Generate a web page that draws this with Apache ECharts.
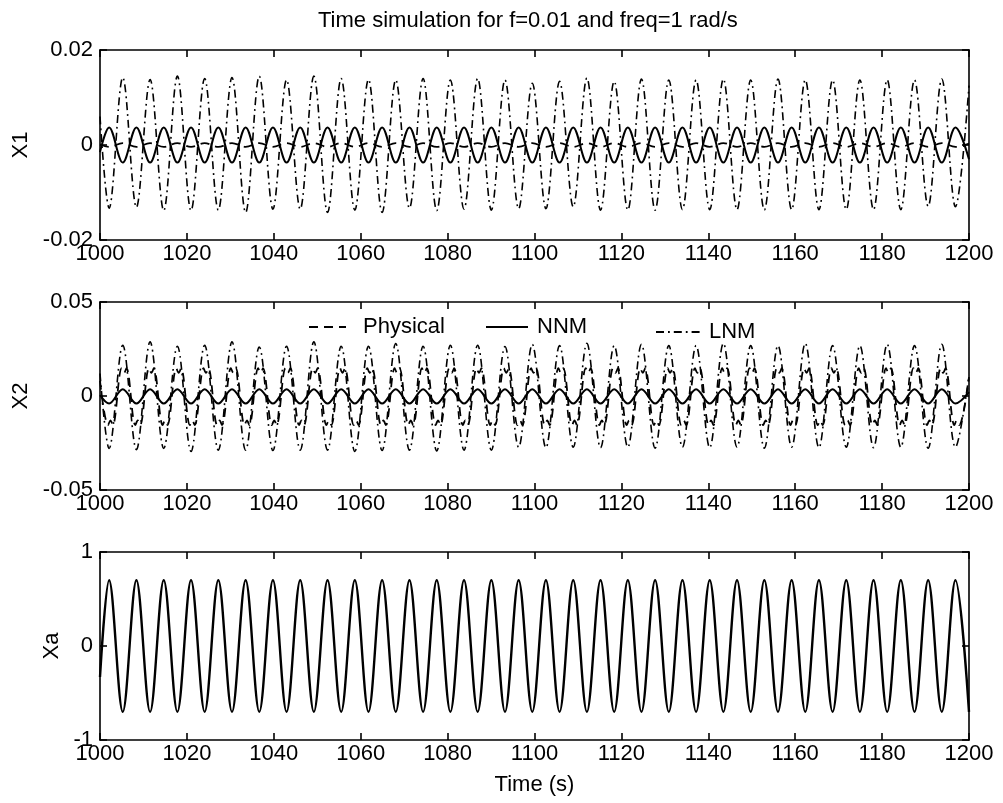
<!DOCTYPE html>
<html>
<head>
<meta charset="utf-8">
<script src="https://cdn.jsdelivr.net/npm/echarts@6/dist/echarts.min.js"></script>
<style>
html,body{margin:0;padding:0;background:#fff}
#chart{width:1003px;height:803px}
</style>
</head>
<body>
<div id="chart"></div>
<script>
// ---------------- data ----------------
const titleText = 'Time simulation for f=0.01 and freq=1 rad/s';
const xMin = 1000, xMax = 1200, xStep = 20;
const yNames = ['X1', 'X2', 'Xa'];
const yMins = [-0.02, -0.05, -1];
const yMaxs = [0.02, 0.05, 1];
const ySteps = [0.02, 0.05, 1];
const legendNames = ['Physical', 'NNM', 'LNM'];

// times of the Xa maxima and minima (s)
const tXaMax = [1002.10, 1008.38, 1014.67, 1020.95, 1027.23, 1033.52, 1039.80, 1046.08, 1052.37, 1058.65, 1064.93, 1071.22, 1077.50, 1083.78, 1090.07, 1096.35, 1102.63, 1108.91, 1115.20, 1121.48, 1127.76, 1134.05, 1140.33, 1146.61, 1152.90, 1159.18, 1165.46, 1171.75, 1178.03, 1184.31, 1190.60, 1196.88];
const tXaMin = [1005.24, 1011.53, 1017.81, 1024.09, 1030.38, 1036.66, 1042.94, 1049.22, 1055.51, 1061.79, 1068.07, 1074.36, 1080.64, 1086.92, 1093.21, 1099.49, 1105.77, 1112.06, 1118.34, 1124.62, 1130.91, 1137.19, 1143.47, 1149.76, 1156.04, 1162.32, 1168.61, 1174.89, 1181.17, 1187.46, 1193.74];

// Xa
const xaAtMax = [0.70, 0.70, 0.70, 0.70, 0.70, 0.70, 0.70, 0.70, 0.70, 0.70, 0.70, 0.70, 0.70, 0.70, 0.70, 0.70, 0.70, 0.70, 0.70, 0.70, 0.70, 0.70, 0.70, 0.70, 0.70, 0.70, 0.70, 0.70, 0.70, 0.70, 0.70, 0.70];
const xaAtMin = [-0.70, -0.70, -0.70, -0.70, -0.70, -0.70, -0.70, -0.70, -0.70, -0.70, -0.70, -0.70, -0.70, -0.70, -0.70, -0.70, -0.70, -0.70, -0.70, -0.70, -0.70, -0.70, -0.70, -0.70, -0.70, -0.70, -0.70, -0.70, -0.70, -0.70, -0.70];
const xaEnds = [-0.33, -0.70];

// X1
const x1NnmAtMax = [0.0037, 0.0037, 0.0037, 0.0037, 0.0037, 0.0037, 0.0037, 0.0037, 0.0037, 0.0037, 0.0037, 0.0037, 0.0037, 0.0037, 0.0037, 0.0037, 0.0037, 0.0037, 0.0037, 0.0037, 0.0037, 0.0037, 0.0037, 0.0037, 0.0037, 0.0037, 0.0037, 0.0037, 0.0037, 0.0037, 0.0037, 0.0037];
const x1NnmAtMin = [-0.0037, -0.0037, -0.0037, -0.0037, -0.0037, -0.0037, -0.0037, -0.0037, -0.0037, -0.0037, -0.0037, -0.0037, -0.0037, -0.0037, -0.0037, -0.0037, -0.0037, -0.0037, -0.0037, -0.0037, -0.0037, -0.0037, -0.0037, -0.0037, -0.0037, -0.0037, -0.0037, -0.0037, -0.0037, -0.0037, -0.0037];
const x1NnmEnds = [-0.0015, -0.0030];

const x1LnmAtMax = [-0.0133, -0.0131, -0.0138, -0.0138, -0.0137, -0.0142, -0.0135, -0.0135, -0.0142, -0.0137, -0.0142, -0.0133, -0.0138, -0.0135, -0.0137, -0.0134, -0.0134, -0.0130, -0.0137, -0.0137, -0.0137, -0.0136, -0.0136, -0.0136, -0.0137, -0.0136, -0.0136, -0.0136, -0.0136, -0.0136, -0.0129, -0.0130];
const x1LnmAtMin = [0.0142, 0.0138, 0.0145, 0.0140, 0.0142, 0.0145, 0.0137, 0.0145, 0.0140, 0.0138, 0.0137, 0.0140, 0.0137, 0.0140, 0.0137, 0.0130, 0.0134, 0.0141, 0.0134, 0.0139, 0.0137, 0.0137, 0.0139, 0.0137, 0.0139, 0.0137, 0.0137, 0.0137, 0.0137, 0.0137, 0.0139];
const x1LnmEnds = [0.0060, 0.0125];

const x1PhysAtMax = [-0.0004, -0.0004, -0.0004, -0.0004, -0.0004, -0.0004, -0.0004, -0.0004, -0.0004, -0.0004, -0.0004, -0.0004, -0.0004, -0.0004, -0.0004, -0.0004, -0.0004, -0.0004, -0.0004, -0.0004, -0.0004, -0.0004, -0.0004, -0.0004, -0.0004, -0.0004, -0.0004, -0.0004, -0.0004, -0.0004, -0.0004, -0.0004];
const x1PhysAtMin = [0.0004, 0.0004, 0.0004, 0.0004, 0.0004, 0.0004, 0.0004, 0.0004, 0.0004, 0.0004, 0.0004, 0.0004, 0.0004, 0.0004, 0.0004, 0.0004, 0.0004, 0.0004, 0.0004, 0.0004, 0.0004, 0.0004, 0.0004, 0.0004, 0.0004, 0.0004, 0.0004, 0.0004, 0.0004, 0.0004, 0.0004];
const x1PhysEnds = [0.0001, 0.0003];

// X2
const x2NnmAtMax = [-0.0040, -0.0040, -0.0040, -0.0040, -0.0040, -0.0040, -0.0040, -0.0040, -0.0040, -0.0040, -0.0040, -0.0040, -0.0040, -0.0040, -0.0040, -0.0040, -0.0040, -0.0040, -0.0040, -0.0040, -0.0040, -0.0040, -0.0040, -0.0040, -0.0040, -0.0040, -0.0040, -0.0040, -0.0040, -0.0040, -0.0040, -0.0040];
const x2NnmAtMin = [0.0036, 0.0036, 0.0036, 0.0036, 0.0036, 0.0036, 0.0036, 0.0036, 0.0036, 0.0036, 0.0036, 0.0036, 0.0036, 0.0036, 0.0036, 0.0036, 0.0036, 0.0036, 0.0036, 0.0036, 0.0036, 0.0036, 0.0036, 0.0036, 0.0036, 0.0036, 0.0036, 0.0036, 0.0036, 0.0036, 0.0036];
const x2NnmEnds = [0.0005, 0.0020];

const x2LnmAtMax = [-0.0279, -0.0285, -0.0279, -0.0295, -0.0288, -0.0288, -0.0290, -0.0288, -0.0288, -0.0295, -0.0290, -0.0288, -0.0292, -0.0288, -0.0288, -0.0272, -0.0275, -0.0272, -0.0275, -0.0272, -0.0278, -0.0272, -0.0275, -0.0272, -0.0278, -0.0272, -0.0275, -0.0272, -0.0275, -0.0272, -0.0278, -0.0272];
const x2LnmAtMin = [0.0270, 0.0288, 0.0265, 0.0270, 0.0288, 0.0261, 0.0265, 0.0288, 0.0265, 0.0265, 0.0279, 0.0265, 0.0270, 0.0270, 0.0263, 0.0275, 0.0268, 0.0280, 0.0268, 0.0275, 0.0268, 0.0268, 0.0280, 0.0268, 0.0268, 0.0280, 0.0268, 0.0268, 0.0275, 0.0268, 0.0275];
const x2LnmEnds = [0.0120, 0.0110];

// Physical X2: notched ("M"-shaped) extremes, [time, value]
const x2PhysPts = [
  [1000, 0.0080],
  [1001.85, -0.0155], [1002.40, -0.0130], [1002.95, -0.0155], [1004.99, 0.0148], [1005.54, 0.0123], [1006.09, 0.0148],
  [1008.13, -0.0155], [1008.68, -0.0130], [1009.23, -0.0155], [1011.28, 0.0148], [1011.83, 0.0123], [1012.38, 0.0148],
  [1014.42, -0.0155], [1014.97, -0.0130], [1015.52, -0.0155], [1017.56, 0.0148], [1018.11, 0.0123], [1018.66, 0.0148],
  [1020.70, -0.0155], [1021.25, -0.0130], [1021.80, -0.0155], [1023.84, 0.0148], [1024.39, 0.0123], [1024.94, 0.0148],
  [1026.98, -0.0155], [1027.53, -0.0130], [1028.08, -0.0155], [1030.13, 0.0148], [1030.68, 0.0123], [1031.23, 0.0148],
  [1033.27, -0.0155], [1033.82, -0.0130], [1034.37, -0.0155], [1036.41, 0.0148], [1036.96, 0.0123], [1037.51, 0.0148],
  [1039.55, -0.0155], [1040.10, -0.0130], [1040.65, -0.0155], [1042.69, 0.0148], [1043.24, 0.0123], [1043.79, 0.0148],
  [1045.83, -0.0155], [1046.38, -0.0130], [1046.93, -0.0155], [1048.97, 0.0148], [1049.52, 0.0123], [1050.07, 0.0148],
  [1052.12, -0.0155], [1052.67, -0.0130], [1053.22, -0.0155], [1055.26, 0.0148], [1055.81, 0.0123], [1056.36, 0.0148],
  [1058.40, -0.0155], [1058.95, -0.0130], [1059.50, -0.0155], [1061.54, 0.0148], [1062.09, 0.0123], [1062.64, 0.0148],
  [1064.68, -0.0155], [1065.23, -0.0130], [1065.78, -0.0155], [1067.82, 0.0148], [1068.37, 0.0123], [1068.92, 0.0148],
  [1070.97, -0.0155], [1071.52, -0.0130], [1072.07, -0.0155], [1074.11, 0.0148], [1074.66, 0.0123], [1075.21, 0.0148],
  [1077.25, -0.0155], [1077.80, -0.0130], [1078.35, -0.0155], [1080.39, 0.0148], [1080.94, 0.0123], [1081.49, 0.0148],
  [1083.53, -0.0155], [1084.08, -0.0130], [1084.63, -0.0155], [1086.67, 0.0148], [1087.22, 0.0123], [1087.77, 0.0148],
  [1089.82, -0.0155], [1090.37, -0.0130], [1090.92, -0.0155], [1092.96, 0.0148], [1093.51, 0.0123], [1094.06, 0.0148],
  [1096.10, -0.0155], [1096.65, -0.0130], [1097.20, -0.0155], [1099.24, 0.0148], [1099.79, 0.0123], [1100.34, 0.0148],
  [1102.38, -0.0155], [1102.93, -0.0130], [1103.48, -0.0155], [1105.52, 0.0148], [1106.07, 0.0123], [1106.62, 0.0148],
  [1108.66, -0.0155], [1109.21, -0.0130], [1109.76, -0.0155], [1111.81, 0.0148], [1112.36, 0.0123], [1112.91, 0.0148],
  [1114.95, -0.0155], [1115.50, -0.0130], [1116.05, -0.0155], [1118.09, 0.0148], [1118.64, 0.0123], [1119.19, 0.0148],
  [1121.23, -0.0155], [1121.78, -0.0130], [1122.33, -0.0155], [1124.37, 0.0148], [1124.92, 0.0123], [1125.47, 0.0148],
  [1127.51, -0.0155], [1128.06, -0.0130], [1128.61, -0.0155], [1130.66, 0.0148], [1131.21, 0.0123], [1131.76, 0.0148],
  [1133.80, -0.0155], [1134.35, -0.0130], [1134.90, -0.0155], [1136.94, 0.0148], [1137.49, 0.0123], [1138.04, 0.0148],
  [1140.08, -0.0155], [1140.63, -0.0130], [1141.18, -0.0155], [1143.22, 0.0148], [1143.77, 0.0123], [1144.32, 0.0148],
  [1146.36, -0.0155], [1146.91, -0.0130], [1147.46, -0.0155], [1149.51, 0.0148], [1150.06, 0.0123], [1150.61, 0.0148],
  [1152.65, -0.0155], [1153.20, -0.0130], [1153.75, -0.0155], [1155.79, 0.0148], [1156.34, 0.0123], [1156.89, 0.0148],
  [1158.93, -0.0155], [1159.48, -0.0130], [1160.03, -0.0155], [1162.07, 0.0148], [1162.62, 0.0123], [1163.17, 0.0148],
  [1165.21, -0.0155], [1165.76, -0.0130], [1166.31, -0.0155], [1168.36, 0.0148], [1168.91, 0.0123], [1169.46, 0.0148],
  [1171.50, -0.0155], [1172.05, -0.0130], [1172.60, -0.0155], [1174.64, 0.0148], [1175.19, 0.0123], [1175.74, 0.0148],
  [1177.78, -0.0155], [1178.33, -0.0130], [1178.88, -0.0155], [1180.92, 0.0148], [1181.47, 0.0123], [1182.02, 0.0148],
  [1184.06, -0.0155], [1184.61, -0.0130], [1185.16, -0.0155], [1187.21, 0.0148], [1187.76, 0.0123], [1188.31, 0.0148],
  [1190.35, -0.0155], [1190.90, -0.0130], [1191.45, -0.0155], [1193.49, 0.0148], [1194.04, 0.0123], [1194.59, 0.0148],
  [1196.63, -0.0155], [1197.18, -0.0130], [1197.73, -0.0155],
  [1200, 0.0100]
];

// ---------------- build the chart ----------------
function mergeSeries(valsAtMax, valsAtMin, ends) {
  const pts = [[xMin, ends[0]]];
  tXaMax.forEach((t, i) => pts.push([t, valsAtMax[i]]));
  tXaMin.forEach((t, i) => pts.push([t, valsAtMin[i]]));
  pts.push([xMax, ends[1]]);
  return pts.sort((a, b) => a[0] - b[0]);
}

const FONT = "'Liberation Sans', Arial, Helvetica, sans-serif";
const gridDefs = [
  { left: 100, top: 50, width: 869, height: 190 },
  { left: 100, top: 302, width: 869, height: 188 },
  { left: 100, top: 552, width: 869, height: 188 }
];
const yNameGaps = [56, 56, 24];

const axisLine = { onZero: false, lineStyle: { color: '#000', width: 1.6 } };
const axisTick = { inside: true, length: 7, lineStyle: { color: '#000', width: 1.6 } };
const labelStyle = { fontSize: 22, color: '#000', fontFamily: FONT };
const plainNum = v => String(v);

const xAxes = [], yAxes = [];
gridDefs.forEach((g, i) => {
  xAxes.push({
    type: 'value', gridIndex: i, position: 'bottom', min: xMin, max: xMax, interval: xStep,
    axisLine, axisTick, splitLine: { show: false },
    axisLabel: Object.assign({ margin: 3, formatter: plainNum }, labelStyle),
    name: i === 2 ? 'Time (s)' : '', nameLocation: 'middle', nameGap: 34,
    nameTextStyle: labelStyle
  });
  xAxes.push({
    type: 'value', gridIndex: i, position: 'top', min: xMin, max: xMax, interval: xStep,
    axisLine, axisTick, splitLine: { show: false }, axisLabel: { show: false }
  });
  yAxes.push({
    type: 'value', gridIndex: i, position: 'left', min: yMins[i], max: yMaxs[i], interval: ySteps[i],
    axisLine, axisTick, splitLine: { show: false },
    axisLabel: Object.assign({ margin: 7, formatter: plainNum }, labelStyle),
    name: yNames[i], nameLocation: 'middle', nameGap: yNameGaps[i], nameTextStyle: labelStyle
  });
  yAxes.push({
    type: 'value', gridIndex: i, position: 'right', min: yMins[i], max: yMaxs[i], interval: ySteps[i],
    axisLine, axisTick, splitLine: { show: false }, axisLabel: { show: false }
  });
});

const styles = {
  Physical: { color: '#000', width: 1.8, type: [9, 6] },
  NNM: { color: '#000', width: 2, type: 'solid' },
  LNM: { color: '#000', width: 1.6, type: [8, 4, 1.8, 4] }
};

function lineSeries(name, gi, data, style) {
  return {
    type: 'line', name, xAxisIndex: gi * 2, yAxisIndex: gi * 2, data,
    symbol: 'none', showSymbol: false, smooth: 0.35, animation: false,
    lineStyle: style, itemStyle: { color: '#000' }, z: 3
  };
}

const series = [
  lineSeries('Physical', 0, mergeSeries(x1PhysAtMax, x1PhysAtMin, x1PhysEnds), styles.Physical),
  lineSeries('NNM', 0, mergeSeries(x1NnmAtMax, x1NnmAtMin, x1NnmEnds), styles.NNM),
  lineSeries('LNM', 0, mergeSeries(x1LnmAtMax, x1LnmAtMin, x1LnmEnds), styles.LNM),
  lineSeries('Physical', 1, x2PhysPts, styles.Physical),
  lineSeries('NNM', 1, mergeSeries(x2NnmAtMax, x2NnmAtMin, x2NnmEnds), styles.NNM),
  lineSeries('LNM', 1, mergeSeries(x2LnmAtMax, x2LnmAtMin, x2LnmEnds), styles.LNM),
  lineSeries('Xa', 2, mergeSeries(xaAtMax, xaAtMin, xaEnds), { color: '#000', width: 2.4, type: 'solid' })
];

const legendPos = [
  { left: 308, top: 316, w: 37, pad: 12 },
  { left: 485, top: 316, w: 42, pad: 4 },
  { left: 655, top: 321, w: 45, pad: 3 }
];
const legends = legendNames.map((n, i) => ({
  data: [n], left: legendPos[i].left, top: legendPos[i].top, padding: 0,
  itemWidth: legendPos[i].w, itemHeight: 14, selectedMode: false,
  itemStyle: { color: 'rgba(0,0,0,0)', borderWidth: 0, opacity: 0 },
  textStyle: Object.assign({ padding: [0, 0, 0, legendPos[i].pad] }, labelStyle)
}));

const chart = echarts.init(document.getElementById('chart'), null, { renderer: 'canvas' });
chart.setOption({
  backgroundColor: '#fff',
  animation: false,
  title: {
    text: titleText, left: 318, top: 10, padding: 0,
    textStyle: { fontSize: 22, fontWeight: 'normal', color: '#000', fontFamily: FONT }
  },
  legend: legends,
  grid: gridDefs,
  xAxis: xAxes,
  yAxis: yAxes,
  series
});
</script>
</body>
</html>
